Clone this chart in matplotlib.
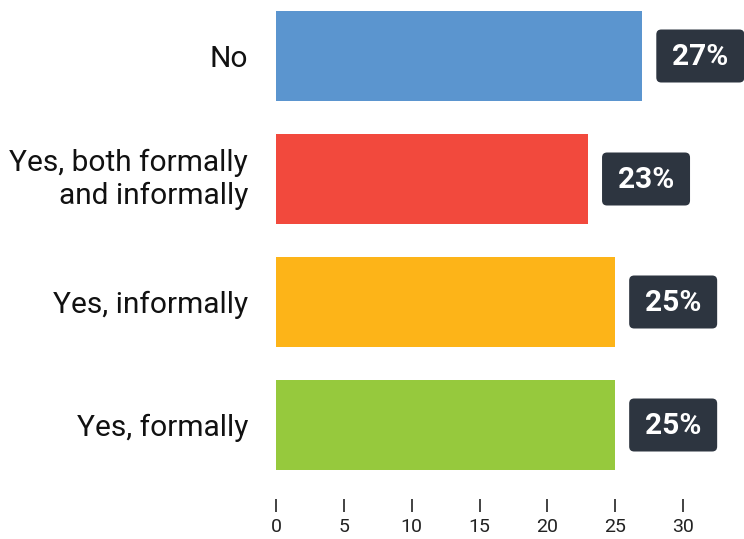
import matplotlib.pyplot as plt
import numpy as np
from matplotlib.patches import FancyBboxPatch
from matplotlib.transforms import ScaledTranslation

plt.rcParams["font.family"] = ["Roboto", "DejaVu Sans"]

categories = ["No", "Yes, both formally\nand informally", "Yes, informally", "Yes, formally"]
shares = [27, 23, 25, 25]
colors = ["#5b95cf", "#f2493d", "#fdb418", "#96c93d"]
xticks = [0, 5, 10, 15, 20, 25, 30]

fig = plt.figure(figsize=(7.44, 5.39), dpi=100)
# axes spans from the top of the first bar to the bottom of the last one
ax = fig.add_axes([276 / 744, 1 - 470 / 539, (683 - 276) / 744, (470 - 11) / 539])

y = np.arange(len(categories))
bar_h = 90 / 123
ax.barh(y, shares, height=bar_h, color=colors)
ax.set_xlim(0, 30)
ax.set_ylim(len(categories) - 1 + bar_h / 2, -bar_h / 2)

ax.set_yticks(y, categories)
ax.tick_params(axis="y", length=0, pad=20, labelsize=21.5, labelcolor="#111111")
for lbl in ax.get_yticklabels():
    lbl.set_linespacing(1.2)
    if "\n" in lbl.get_text():
        # nudge the two-line label up a little
        lbl.set_transform(lbl.get_transform() + ScaledTranslation(0, 0.05, fig.dpi_scale_trans))

ax.set_xticks(xticks, [str(t) for t in xticks])
ax.tick_params(axis="x", length=9.4, width=1.2, color="#222222", pad=4,
               labelsize=14, labelcolor="#222222")

for side in ["top", "right", "left"]:
    ax.spines[side].set_visible(False)
ax.spines["bottom"].set_position(("outward", 21))
ax.spines["bottom"].set_color("none")

# value badges: dark rounded boxes placed just right of each bar end
gap, box_w, box_h = 0.14, 0.88, 0.53  # inches
for yi, v in zip(y, shares):
    tr = fig.dpi_scale_trans + ScaledTranslation(v, yi, ax.transData)
    box = FancyBboxPatch((gap, -box_h / 2), box_w, box_h,
                         boxstyle="round,pad=0,rounding_size=0.05",
                         fc="#2d3540", ec="none", transform=tr, clip_on=False)
    ax.add_patch(box)
    ax.text(gap + box_w / 2, -0.01, f"{v}%", transform=tr, ha="center", va="center",
            fontsize=21.5, fontweight="bold", color="white", clip_on=False)

fig.savefig("out.png", dpi=100)
